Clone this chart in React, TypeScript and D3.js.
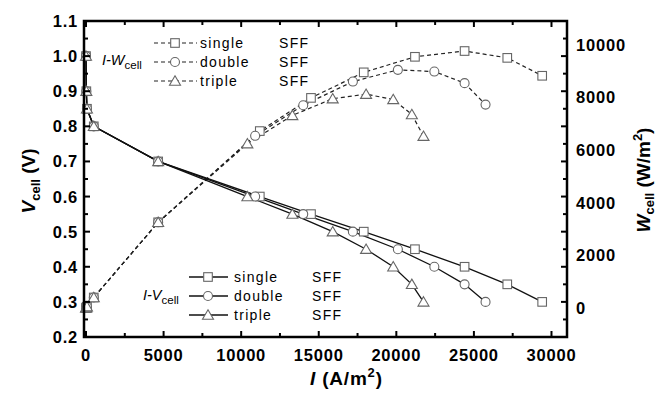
import React from "react";
import * as d3 from "d3";

// cell voltage (V) of each measured point, shared by all three stacks
const voltage = [1.0, 0.9, 0.85, 0.8, 0.7, 0.6, 0.55, 0.5, 0.45, 0.4, 0.35, 0.3];
// current density (A/m2)
const currentSingle = [0, 20, 60, 500, 4650, 11200, 14500, 17900, 21200, 24400, 27150, 29400];
const currentDouble = [0, 20, 60, 500, 4650, 10900, 14000, 17200, 20100, 22450, 24400, 25750];
const currentTriple = [0, 20, 60, 500, 4650, 10400, 13300, 15900, 18050, 19800, 21000, 21750];
// power density (W/m2)
const powerSingle = [0, 20, 50, 400, 3255, 6720, 7980, 8950, 9540, 9760, 9500, 8820];
const powerDouble = [0, 20, 50, 400, 3255, 6540, 7700, 8600, 9045, 8980, 8540, 7725];
const powerTriple = [0, 20, 50, 400, 3255, 6240, 7315, 7950, 8120, 7920, 7350, 6525];

const seriesNames = ["single", "double", "triple"];
const seriesTag = "SFF";
const vTicks = [0.2, 0.3, 0.4, 0.5, 0.6, 0.7, 0.8, 0.9, 1.0, 1.1];
const iTicks = [0, 5000, 10000, 15000, 20000, 25000, 30000];
const wTicks = [0, 2000, 4000, 6000, 8000, 10000];

const W = 658;
const H = 394;
const left = 84, right = 567, top = 21, bottom = 337;
const font = "'Liberation Sans', Arial, sans-serif";
const markerStroke = "#666";

function Marker({ kind, x, y }: { kind: string; x: number; y: number }) {
  if (kind === "single")
    return <rect x={x - 4.3} y={y - 4.3} width={8.6} height={8.6} fill="#fff" stroke={markerStroke} strokeWidth={1.1} />;
  if (kind === "double")
    return <circle cx={x} cy={y} r={4.5} fill="#fff" stroke={markerStroke} strokeWidth={1.1} />;
  return (
    <path
      d={`M${x},${y - 5.2}L${x + 5.5},${y + 4.2}L${x - 5.5},${y + 4.2}Z`}
      fill="#fff"
      stroke={markerStroke}
      strokeWidth={1.1}
    />
  );
}

export default function App() {
  const x = d3.scaleLinear().domain([-130, 31000]).range([left, right]);
  const yV = d3.scaleLinear().domain([0.2, 1.1]).range([bottom, top]);
  const yW = d3.scaleLinear().domain([-1100, 10900]).range([bottom, top]);

  const currents = [currentSingle, currentDouble, currentTriple];
  const powers = [powerSingle, powerDouble, powerTriple];

  const ivLine = d3
    .line<number>()
    .x((d) => x(d))
    .y((_, i) => yV(voltage[i]));

  const iwLine = (cur: number[]) =>
    d3
      .line<number>()
      .x((d, i) => x(cur[i]))
      .y((d) => yW(d));

  const vMinor = d3.range(0.2, 1.1001, 0.05);
  const iMinor = d3.range(0, 31000, 2500);

  const tick = { stroke: "#000", strokeWidth: 2 };

  return (
    <svg width={W} height={H} style={{ position: "absolute", left: 0, top: 0, background: "#fff" }} fontFamily={font}>
      {/* I-W dashed curves */}
      {powers.map((p, k) => (
        <path key={"w" + k} d={iwLine(currents[k])(p) || ""} fill="none" stroke="#222" strokeWidth={1.2} strokeDasharray="4,3" />
      ))}
      {/* I-V solid curves */}
      {currents.map((c, k) => (
        <path key={"v" + k} d={ivLine(c) || ""} fill="none" stroke="#111" strokeWidth={1.3} />
      ))}
      {seriesNames.map((name, k) => (
        <g key={"mw" + name}>
          {powers[k].map((p, i) => (
            <Marker key={i} kind={name} x={x(currents[k][i])} y={yW(p)} />
          ))}
        </g>
      ))}
      {seriesNames.map((name, k) => (
        <g key={"mv" + name}>
          {currents[k].map((c, i) => (
            <Marker key={i} kind={name} x={x(c)} y={yV(voltage[i])} />
          ))}
        </g>
      ))}

      {/* frame */}
      <rect x={left} y={top} width={right - left} height={bottom - top} fill="none" stroke="#000" strokeWidth={2.5} />

      {/* ticks */}
      {vMinor.map((v, i) => {
        const major = i % 2 === 0;
        const len = major ? 6 : 4;
        return (
          <g key={"vt" + i}>
            <line x1={left} x2={left + len} y1={yV(v)} y2={yV(v)} {...tick} />
            <line x1={right} x2={right - len} y1={yV(v)} y2={yV(v)} {...tick} />
          </g>
        );
      })}
      {iMinor.map((v, i) => {
        const major = i % 2 === 0;
        const len = major ? 6 : 4;
        return (
          <g key={"it" + i}>
            <line x1={x(v)} x2={x(v)} y1={bottom} y2={bottom - len} {...tick} />
            <line x1={x(v)} x2={x(v)} y1={top} y2={top + len} {...tick} />
          </g>
        );
      })}

      {/* tick labels */}
      {vTicks.map((v) => (
        <text key={"vl" + v} x={78} y={yV(v) + 6} textAnchor="end" fontSize={16.5} fontWeight="bold" letterSpacing={0.8}>
          {v.toFixed(1)}
        </text>
      ))}
      {iTicks.map((v) => (
        <text key={"il" + v} x={x(v)} y={361} textAnchor="middle" fontSize={16.5} fontWeight="bold" letterSpacing={0.8}>
          {v}
        </text>
      ))}
      {wTicks.map((v) => (
        <text key={"wl" + v} x={576} y={yW(v) + 6} textAnchor="start" fontSize={16.5} fontWeight="bold" letterSpacing={0.8}>
          {v}
        </text>
      ))}

      {/* axis titles */}
      <text transform="translate(35,181) rotate(-90)" textAnchor="middle" fontSize={19} fontWeight="bold">
        <tspan fontStyle="italic">V</tspan>
        <tspan fontSize={13} dy={5}>cell</tspan>
        <tspan dy={-5}> (V)</tspan>
      </text>
      <text transform="translate(650,180) rotate(-90)" textAnchor="middle" fontSize={19} fontWeight="bold">
        <tspan fontStyle="italic">W</tspan>
        <tspan fontSize={13} dy={4}>cell</tspan>
        <tspan dy={-4}> (W/m</tspan>
        <tspan fontSize={13} dy={-8}>2</tspan>
        <tspan dy={8}>)</tspan>
      </text>
      <text x={310} y={385} fontSize={19} fontWeight="bold" letterSpacing={0.8}>
        <tspan fontStyle="italic">I</tspan>
        <tspan> (A/m</tspan>
        <tspan fontSize={13} dy={-8}>2</tspan>
        <tspan dy={8}>)</tspan>
      </text>

      {/* I-W legend */}
      <text x={102} y={65} fontSize={14.5}>
        <tspan fontStyle="italic">I-W</tspan>
        <tspan fontSize={11.5} dy={4}>cell</tspan>
      </text>
      {seriesNames.map((name, k) => {
        const ly = 43 + k * 19;
        return (
          <g key={"lw" + name}>
            <line x1={154} x2={197} y1={ly} y2={ly} stroke="#222" strokeWidth={1.2} strokeDasharray="4,3" />
            <Marker kind={name} x={175} y={ly} />
            <text x={200} y={ly + 5} fontSize={14} letterSpacing={1.3}>{name}</text>
            <text x={279} y={ly + 5} fontSize={14} letterSpacing={1.3}>{seriesTag}</text>
          </g>
        );
      })}

      {/* I-V legend */}
      <text x={143} y={300} fontSize={14.5}>
        <tspan fontStyle="italic">I-V</tspan>
        <tspan fontSize={11.5} dy={4}>cell</tspan>
      </text>
      {seriesNames.map((name, k) => {
        const ly = 277 + k * 19;
        return (
          <g key={"lv" + name}>
            <line x1={189} x2={228} y1={ly} y2={ly} stroke="#111" strokeWidth={1.3} />
            <Marker kind={name} x={208} y={ly} />
            <text x={234} y={ly + 5} fontSize={14} letterSpacing={1.3}>{name}</text>
            <text x={312} y={ly + 5} fontSize={14} letterSpacing={1.3}>{seriesTag}</text>
          </g>
        );
      })}
    </svg>
  );
}
